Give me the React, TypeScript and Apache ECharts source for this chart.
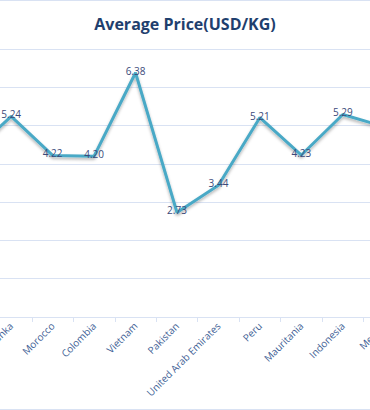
import React, { useEffect, useRef } from "react";
import * as echarts from "echarts";

const TITLE = "Average Price(USD/KG)";
const countries = [
  "",
  "Sri Lanka",
  "Morocco",
  "Colombia",
  "Vietnam",
  "Pakistan",
  "United Arab Emirates",
  "Peru",
  "Mauritania",
  "Indonesia",
  "Mexico",
];
const prices = [4.24, 5.24, 4.22, 4.2, 6.38, 2.73, 3.44, 5.21, 4.23, 5.29, 4.97];
const yTicks = { min: 0, max: 7, interval: 1 };

export default function App() {
  const ref = useRef<HTMLDivElement>(null);
  useEffect(() => {
    if (!ref.current) return;
    const chart = echarts.init(ref.current, undefined, { renderer: "svg" });
    chart.setOption({
      animation: false,
      backgroundColor: "#ffffff",
      title: {
        text: TITLE,
        left: "center",
        top: 10,
        textStyle: {
          fontFamily: "Open Sans",
          fontWeight: "bold",
          fontSize: 16,
          color: "#1f3f6e",
        },
      },
      grid: { left: 49, right: 65, top: 48, bottom: 92 },
      xAxis: {
        type: "category",
        data: countries,
        boundaryGap: true,
        axisLine: { lineStyle: { color: "#d9e2f3", width: 1 } },
        axisTick: { show: true, length: 5, lineStyle: { color: "#d9e2f3" } },
        axisLabel: {
          rotate: 45,
          interval: 0,
          margin: 7,
          fontFamily: "Open Sans",
          fontSize: 10,
          color: "#3f5f96",
        },
      },
      yAxis: {
        type: "value",
        min: yTicks.min,
        max: yTicks.max,
        interval: yTicks.interval,
        axisLabel: { show: false },
        axisLine: { show: false },
        axisTick: { show: false },
        splitLine: { lineStyle: { color: "#d9e2f3", width: 1 } },
      },
      series: [
        {
          type: "line",
          data: prices,
          symbol: "circle",
          symbolSize: 1,
          showSymbol: true,
          itemStyle: { color: "rgba(0,0,0,0)", borderWidth: 0 },
          lineStyle: {
            color: "#4aa9c6",
            width: 3,
            shadowColor: "rgba(0,0,0,0.3)",
            shadowBlur: 3,
            shadowOffsetY: 2,
          },
          label: {
            show: true,
            position: "inside",
            offset: [0, -2],
            formatter: (p: any) => Number(p.value).toFixed(2),
            fontFamily: "Open Sans",
            fontSize: 10,
            color: "#3b4a7a",
          },
        },
      ],
    });
    return () => chart.dispose();
  }, []);
  return (
    <div
      style={{
        position: "fixed",
        left: 0,
        top: 0,
        width: 370,
        height: 410,
        overflow: "hidden",
        background: "#fff",
        boxSizing: "border-box",
        borderTop: "1px solid #d9e2f3",
        borderBottom: "1px solid #d9e2f3",
      }}
    >
      <div
        ref={ref}
        style={{ position: "absolute", left: -100, top: 0, width: 570, height: 408 }}
      />
    </div>
  );
}
